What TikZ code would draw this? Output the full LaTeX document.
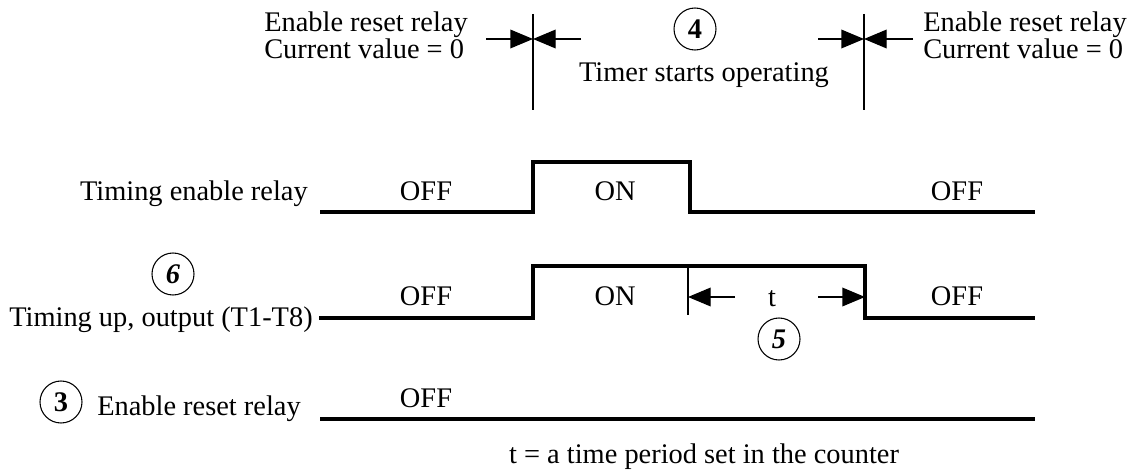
\documentclass[tikz,border=0pt]{standalone}
\usepackage{fontspec}
\setmainfont{Liberation Serif}
\usetikzlibrary{arrows.meta,positioning}

\begin{document}
\begin{tikzpicture}[>={Triangle[length=17pt,width=14pt]},x=0.75pt,y=-0.75pt]
 \tikzstyle{lbl}=[inner sep=0pt,font=\fontsize{21.3}{24}\selectfont]
 \tikzstyle{numcirc}=[circle,draw,line width=0.8pt,minimum size=31.5pt,inner sep=0pt,font=\fontsize{21.3}{24}\selectfont\bfseries]
 \tikzstyle{wave}=[line width=2.6pt,line join=miter]
 \tikzstyle{hair}=[line width=1pt]
 \useasboundingbox (0,0) rectangle (1144,470);
 % top: reset points and timer start
 \node[lbl,anchor=base west] (resetA) at (264,32) {Enable reset relay};
 \node[lbl,anchor=base west] (curA) at (264,59) {Current value = 0};
 \node[lbl,anchor=base west] (resetB) at (923,32) {Enable reset relay};
 \node[lbl,anchor=base west] (curB) at (923,59) {Current value = 0};
 \node[numcirc] (four) at (695,29) {4};
 \node[lbl,anchor=base] (startop) at (704,82) {Timer starts operating};
 \coordinate (gA) at (533,39);
 \coordinate (gB) at (864,39);
 \coordinate (gAin) at (486,39);
 \coordinate (gAout) at (581,39);
 \coordinate (gBin) at (818,39);
 \coordinate (gBout) at (913,39);
 \draw[hair] (533,14) -- (533,110);
 \draw[hair] (864,14) -- (864,110);
 \draw[->,hair] (gAin) -- (gA);
 \draw[->,hair] (gAout) -- (gA);
 \draw[->,hair] (gBin) -- (gB);
 \draw[->,hair] (gBout) -- (gB);
 % timing enable relay
 \node[lbl,anchor=base east] (tenable) at (308,201) {Timing enable relay};
 \draw[wave] (320,212) -- (533,212) -- (533,162) -- (690,162) -- (690,212) -- (1035,212);
 \node[lbl,anchor=base] (offA) at (426,201) {OFF};
 \node[lbl,anchor=base] (onA) at (615,201) {ON};
 \node[lbl,anchor=base] (offB) at (957,201) {OFF};
 % timing up output
 \node[numcirc] (six) at (173,274) {\itshape 6};
 \node[lbl,anchor=base east] (tout) at (313,326) {Timing up, output (T1-T8)};
 \draw[wave] (319,318) -- (533,318) -- (533,266) -- (865,266) -- (865,318) -- (1035,318);
 \node[lbl,anchor=base] (offC) at (426,305) {OFF};
 \node[lbl,anchor=base] (onC) at (615,305) {ON};
 \node[lbl,anchor=base] (offD) at (957,305) {OFF};
 \draw[hair] (688,266) -- (688,315);
 \coordinate (tstart) at (688,297);
 \coordinate (tend) at (865,297);
 \node[lbl,anchor=base] (tsym) at (772,306) {t};
 \draw[->,hair] (735,297) -- (tstart);
 \draw[->,hair] (818,297) -- (tend);
 \node[numcirc] (five) at (779,339) {\itshape 5};
 % enable reset relay
 \node[numcirc] (three) at (61,402) {3};
 \node[lbl,anchor=base west] (treset) at (97,415) {Enable reset relay};
 \draw[wave] (320,419) -- (1035,419);
 \node[lbl,anchor=base] (offE) at (426,407) {OFF};
 \node[lbl,anchor=base] (tnote) at (704,463) {t = a time period set in the counter};
\end{tikzpicture}
\end{document}
